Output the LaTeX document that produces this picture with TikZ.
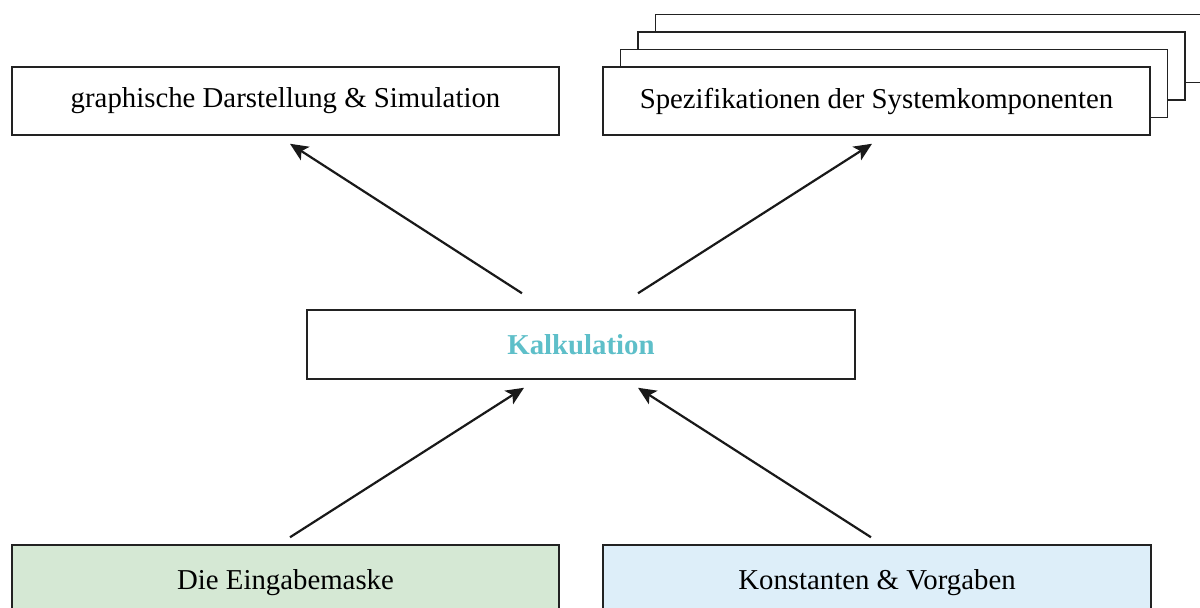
\documentclass[tikz,border=0pt]{standalone}
\usepackage{fontspec}
\setmainfont{Liberation Serif}
\usetikzlibrary{arrows.meta,calc}
\definecolor{boxline}{HTML}{222222}
\definecolor{greenfill}{HTML}{D5E8D4}
\definecolor{bluefill}{HTML}{DDEEF9}
\definecolor{tealtext}{HTML}{5EBFC9}
\begin{document}
\begin{tikzpicture}[x=0.5pt,y=-0.5pt,
  box/.style={draw=boxline,line width=0.75pt,fill=white,minimum width=273.5pt,minimum height=34pt,inner sep=0pt,font=\fontsize{14.4}{17}\selectfont},
  arr/.style={line width=1.1pt,draw=black!90,-{Stealth[length=9pt,width=8pt,inset=2.2pt]}}]
\useasboundingbox (0,0) rectangle (1200,607);
\begin{scope}
\clip (0,0) rectangle (1200,607);
\node[box] (gds) at (285.5,101) {graphische Darstellung \& Simulation};
\node[box] (spec4) at (929,48.5) {};
\node[box] (spec3) at (911.5,66) {};
\node[box] (spec2) at (894,83.5) {};
\node[box] (spec) at (876.5,101) {Spezifikationen der Systemkomponenten};
\node[box,minimum width=274pt,minimum height=34.5pt,font=\fontsize{14.4}{17}\selectfont\bfseries,text=tealtext] (kalk) at (581,344.5) {Kalkulation};
\node[box,fill=greenfill,minimum height=38pt] (eing) at (285.5,583) {Die Eingabemaske};
\node[box,fill=bluefill,minimum width=274pt,minimum height=38pt] (konst) at (877,583) {Konstanten \& Vorgaben};
\draw[arr] ($(kalk.north)+(-59,-16)$) -- ($(gds.south)+(4.5,8)$);
\draw[arr] ($(kalk.north)+(57,-16)$) -- ($(spec.south)+(-4.5,8)$);
\draw[arr] ($(eing.north)+(4.5,-7)$) -- ($(kalk.south)+(-57,8)$);
\draw[arr] ($(konst.north)+(-6,-7)$) -- ($(kalk.south)+(57,8)$);
\end{scope}
\end{tikzpicture}
\end{document}
